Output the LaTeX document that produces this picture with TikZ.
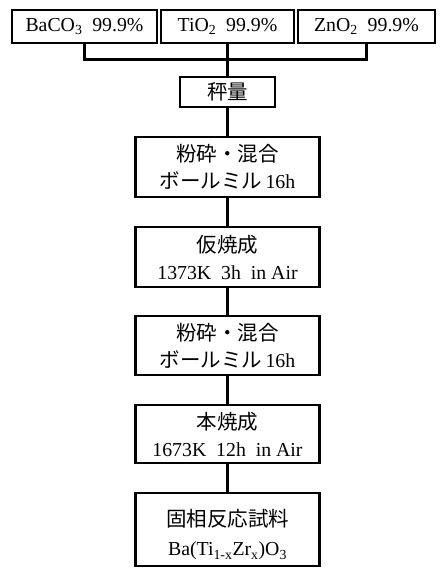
\documentclass[tikz,border=0pt]{standalone}
\usepackage{fontspec}
\setmainfont{Liberation Serif}
\newfontfamily\cjk{Noto Sans CJK JP}
\newcommand{\jp}[1]{{\cjk\fontsize{20.5}{27}\selectfont #1}}
\begin{document}
\begin{tikzpicture}[x=1pt,y=-1pt,
  box/.style={draw=black,line width=2.6pt,fill=white,inner sep=0pt,align=center,font=\fontsize{19.8}{27}\selectfont},
  conn/.style={line width=3pt}]
\useasboundingbox[fill=white] (0,0) rectangle (442,571);
\node[box,minimum width=145pt,minimum height=33pt] (b1) at (84.5,26.5) {BaCO\textsubscript{3}\hspace{0.5em}99.9\%};
\node[box,minimum width=133pt,minimum height=33pt] (b2) at (227.5,26.5) {TiO\textsubscript{2}\hspace{0.5em}99.9\%};
\node[box,minimum width=137pt,minimum height=33pt] (b3) at (366.5,26.5) {ZnO\textsubscript{2}\hspace{0.5em}99.9\%};
\node[box,minimum width=95pt,minimum height=30pt] (w) at (227.5,92) {\jp{秤量}};
\node[box,minimum width=184pt,minimum height=60pt] (m1) at (227.5,167) {\jp{粉砕・混合}\\\jp{ボールミル}\,16h};
\node[box,minimum width=184pt,minimum height=60pt] (c1) at (227.5,257) {\jp{仮焼成}\\1373K\hspace{0.5em}3h\hspace{0.5em}in Air};
\node[box,minimum width=184pt,minimum height=59pt] (m2) at (227.5,345.5) {\jp{粉砕・混合}\\\jp{ボールミル}\,16h};
\node[box,minimum width=184pt,minimum height=58pt] (c2) at (227.5,434) {\jp{本焼成}\\1673K\hspace{0.5em}12h\hspace{0.5em}in Air};
\node[box,minimum width=184pt,minimum height=73pt,font=\fontsize{19.8}{29}\selectfont] (s) at (227.5,529.5) {\rule{0pt}{28pt}\jp{固相反応試料}\\Ba(Ti\textsubscript{1-x}Zr\textsubscript{x})O\textsubscript{3}};
\coordinate (bus) at (227.5,59);
\draw[conn] (b1.south) |- (bus) -| (b3.south);
\draw[conn] (b2.south) -- (w.north);
\draw[conn] (w.south) -- (m1.north);
\draw[conn] (m1.south) -- (c1.north);
\draw[conn] (c1.south) -- (m2.north);
\draw[conn] (m2.south) -- (c2.north);
\draw[conn] (c2.south) -- (s.north);
\end{tikzpicture}
\end{document}
